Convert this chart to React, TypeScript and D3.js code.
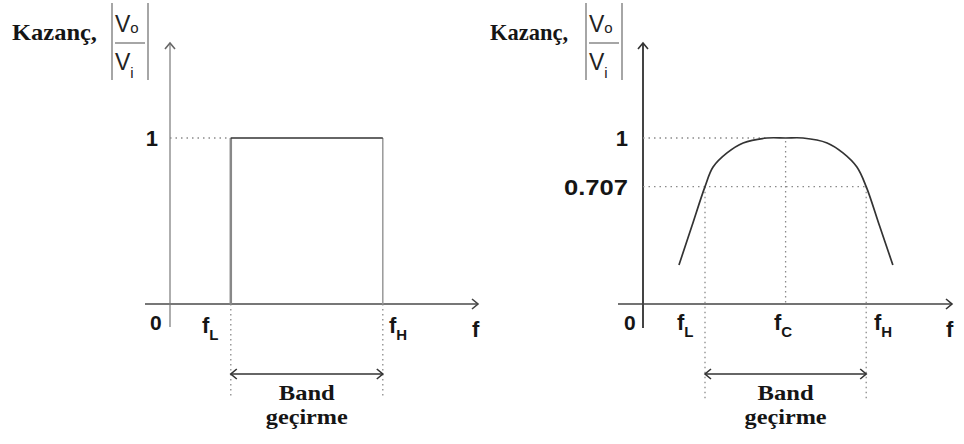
import React from "react";
import * as d3 from "d3";

// ---- data ----
const leftEdges = [2, 7]; // fL, fH (ideal band-pass)
const leftEdgeLabels = ["L", "H"];
const rightMarks = [2, 4.6, 7.2]; // fL, fC, fH
const rightMarkLabels = ["L", "C", "H"];
const curveFreq = [1.16, 1.58, 2.0, 2.26, 2.71, 3.23, 4.0, 4.6, 5.16, 5.94, 6.45, 6.9, 7.2, 7.63, 8.06];
const curveGain = [0.235, 0.471, 0.707, 0.825, 0.91, 0.97, 1.0, 1.0, 1.0, 0.97, 0.91, 0.825, 0.707, 0.471, 0.235];
const leftYTicks = [1];
const rightYTicks = [1, 0.707];
const rightYTickLabels = ["1", "0.707"];

const W = 964;
const H = 444;
const sans = "'Liberation Sans', Arial, sans-serif";
const serif = "'Liberation Serif', 'Times New Roman', serif";

const yScale = d3.scaleLinear().domain([0, 1]).range([304, 138]);
const xLeft = d3.scaleLinear().domain([0, 10]).range([170, 474]);
const xRight = d3.scaleLinear().domain([0, 10]).range([643, 953]);

const DOT = "#8a8a8a";
const INK = "#151515";

function Title({ x, bar, len }: { x: number; bar: number; len: number }) {
  const b1 = x + bar;
  const b2 = b1 + 36;
  return (
    <g>
      <text x={x} y={40} fontFamily={serif} fontWeight="bold" fontSize={24} fill={INK} textLength={len} lengthAdjust="spacingAndGlyphs">
        Kazanç,
      </text>
      <line x1={b1} x2={b1} y1={3} y2={80} stroke="#888" strokeWidth={1.5} />
      <line x1={b2} x2={b2} y1={3} y2={80} stroke="#888" strokeWidth={1.5} />
      <line x1={b1 + 3} x2={b2 - 3} y1={43} y2={43} stroke="#888" strokeWidth={1.5} />
      <text x={b1 + 3} y={32} fontFamily={sans} fontSize={23} fill="#222">
        V<tspan fontSize={15} dy={1}>o</tspan>
      </text>
      <text x={b1 + 3} y={70} fontFamily={sans} fontSize={23} fill="#222">
        V<tspan fontSize={15} dy={8}>i</tspan>
      </text>
    </g>
  );
}

function Chevron({ x, y, dir, color, w = 1.6 }: { x: number; y: number; dir: "up" | "right" | "left"; color: string; w?: number }) {
  let d = "";
  if (dir === "up") d = `M${x - 5},${y + 6}L${x},${y}L${x + 5},${y + 6}`;
  if (dir === "right") d = `M${x - 6},${y - 5}L${x},${y}L${x - 6},${y + 5}`;
  if (dir === "left") d = `M${x + 6},${y - 5}L${x},${y}L${x + 6},${y + 5}`;
  return <path d={d} fill="none" stroke={color} strokeWidth={w} />;
}

function FLabel({ x, y, sub }: { x: number; y: number; sub?: string }) {
  return (
    <text x={x} y={y} fontFamily={sans} fontWeight="bold" fontSize={22} fill={INK}>
      f
      {sub ? (
        <tspan fontSize={15} dy={7}>
          {sub}
        </tspan>
      ) : null}
    </text>
  );
}

function BandLabel({ x1, x2 }: { x1: number; x2: number }) {
  const cx = (x1 + x2) / 2;
  return (
    <g>
      <line x1={x1} x2={x2} y1={374} y2={374} stroke="#333" strokeWidth={1.6} />
      <Chevron x={x1} y={374} dir="left" color="#333" />
      <Chevron x={x2} y={374} dir="right" color="#333" />
      <text x={cx} y={400} textAnchor="middle" fontFamily={serif} fontWeight="bold" fontSize={21} fill={INK}
        textLength={56} lengthAdjust="spacingAndGlyphs">
        Band
      </text>
      <text x={cx} y={424} textAnchor="middle" fontFamily={serif} fontWeight="bold" fontSize={21} fill={INK}
        textLength={82} lengthAdjust="spacingAndGlyphs">
        geçirme
      </text>
    </g>
  );
}

export default function App() {
  const y0 = yScale(0);
  const lx0 = xLeft(0);
  const lL = xLeft(leftEdges[0]);
  const lH = xLeft(leftEdges[1]);
  const y1 = yScale(1);

  const rx0 = xRight(0);
  const curvePts: [number, number][] = curveFreq.map((f, i) => [xRight(f), yScale(curveGain[i])]);
  const line = d3.line().curve(d3.curveCatmullRom.alpha(0.5))(curvePts) || "";
  const r707 = yScale(0.707);
  const rL = xRight(rightMarks[0]);
  const rC = xRight(rightMarks[1]);
  const rH = xRight(rightMarks[2]);

  return (
    <svg width={W} height={H} style={{ position: "absolute", left: 0, top: 0, background: "#fff" }}>
      <rect width={W} height={H} fill="#fff" />
      {/* ---------- LEFT ---------- */}
      <Title x={12} bar={100} len={85} />
      <line x1={lx0} x2={lx0} y1={43} y2={327} stroke="#9a9a9a" strokeWidth={1.6} />
      <Chevron x={lx0} y={43} dir="up" color="#666" />
      <line x1={145} x2={478} y1={y0} y2={y0} stroke="#777" strokeWidth={2.2} />
      <Chevron x={478} y={y0} dir="right" color="#444" />
      <line x1={lx0} x2={lL} y1={y1} y2={y1} stroke={DOT} strokeWidth={1.3} strokeDasharray="1.5 4" />
      {leftEdges.map((e, i) => (
        <line key={i} x1={xLeft(e)} x2={xLeft(e)} y1={y0} y2={398} stroke={DOT} strokeWidth={1.3} strokeDasharray="1.5 3.5" />
      ))}
      <line x1={lL} x2={lL} y1={y1} y2={y0} stroke="#888" strokeWidth={2.5} />
      <line x1={lH} x2={lH} y1={y1} y2={y0} stroke="#999" strokeWidth={1.5} />
      <line x1={lL} x2={lH} y1={y1} y2={y1} stroke="#333" strokeWidth={1.6} />
      {leftYTicks.map((t, i) => (
        <text key={i} x={158} y={yScale(t) + 8} textAnchor="end" fontFamily={sans} fontWeight="bold" fontSize={22} fill={INK}>
          {t}
        </text>
      ))}
      <text x={150} y={330} fontFamily={sans} fontWeight="bold" fontSize={21} fill={INK}>0</text>
      <FLabel x={202} y={333} sub={leftEdgeLabels[0]} />
      <FLabel x={389} y={333} sub={leftEdgeLabels[1]} />
      <FLabel x={472} y={337} />
      <BandLabel x1={lL} x2={lH} />

      {/* ---------- RIGHT ---------- */}
      <Title x={490} bar={96} len={78} />
      <line x1={rx0} x2={rx0} y1={43} y2={328} stroke="#444" strokeWidth={2} />
      <Chevron x={rx0} y={43} dir="up" color="#333" />
      <line x1={618} x2={952} y1={y0} y2={y0} stroke="#444" strokeWidth={1.6} />
      <Chevron x={952} y={y0} dir="right" color="#333" />
      <line x1={rx0} x2={xRight(4.0)} y1={y1} y2={y1} stroke={DOT} strokeWidth={1.3} strokeDasharray="1.5 4" />
      <line x1={rx0} x2={rH} y1={r707} y2={r707} stroke={DOT} strokeWidth={1.3} strokeDasharray="1.5 4" />
      <line x1={rC} x2={rC} y1={y1 + 3} y2={y0} stroke={DOT} strokeWidth={1.3} strokeDasharray="1.5 3.5" />
      <line x1={rL} x2={rL} y1={r707} y2={400} stroke={DOT} strokeWidth={1.3} strokeDasharray="1.5 3.5" />
      <line x1={rH} x2={rH} y1={r707} y2={400} stroke={DOT} strokeWidth={1.3} strokeDasharray="1.5 3.5" />
      <path d={line} fill="none" stroke="#333" strokeWidth={1.7} />
      {rightYTicks.map((t, i) => (
        <text key={i} x={628} y={yScale(t) + 8} textAnchor="end" fontFamily={sans} fontWeight="bold" fontSize={22} fill={INK}
          textLength={i === 1 ? 64 : undefined} lengthAdjust="spacingAndGlyphs">
          {rightYTickLabels[i]}
        </text>
      ))}
      <text x={624} y={330} fontFamily={sans} fontWeight="bold" fontSize={21} fill={INK}>0</text>
      <FLabel x={677} y={330} sub={rightMarkLabels[0]} />
      <FLabel x={774} y={330} sub={rightMarkLabels[1]} />
      <FLabel x={874} y={330} sub={rightMarkLabels[2]} />
      <FLabel x={946} y={337} />
      <BandLabel x1={rL} x2={rH} />
    </svg>
  );
}
